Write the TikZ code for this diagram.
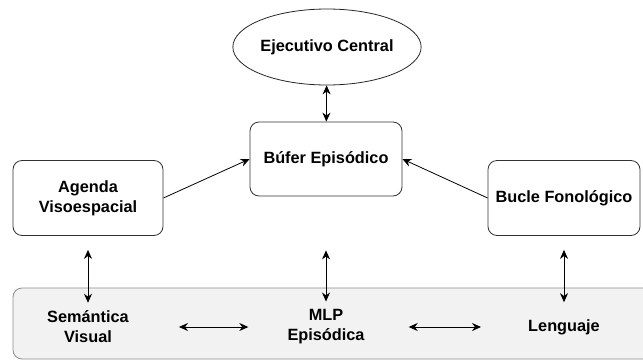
\documentclass[tikz,border=0pt]{standalone}
\usepackage{fontspec}
\setmainfont{Liberation Sans}
\usetikzlibrary{arrows.meta,positioning,shapes.geometric}

\tikzset{
  caja/.style={draw=black!80,rounded corners=9pt,thick,fill=white,align=center,
    minimum width=150pt,minimum height=75pt,inner sep=0pt},
  texto/.style={align=center,inner sep=0pt},
  flecha/.style={{Stealth[length=9pt,width=8pt]}-{Stealth[length=9pt,width=8pt]},thick},
  flechauna/.style={-{Stealth[length=9pt,width=8pt]},thick}
}

\begin{document}
\begin{tikzpicture}[x=1pt,y=-1pt,font=\fontsize{16.3}{20}\selectfont\bfseries]
%tamano de la figura
\useasboundingbox (0,0) rectangle (643,362);
\clip (0,0) rectangle (643,362);

%banda gris de abajo
\draw [black!45,fill=black!5,rounded corners=9pt,thick] (13,288) rectangle (680,359);

%nodos de arriba
\node [draw=black!85,thick,ellipse,minimum width=150pt,minimum height=76pt,inner sep=0pt] (ejecutivo) at (327,47) {Ejecutivo Central};
\node [caja,minimum width=152pt,minimum height=74pt] (bufer) at (326,159) {Búfer Episódico};
\node [caja] (agenda) at (88,198) {Agenda\\Visoespacial};
\node [caja,minimum width=152pt] (bucle) at (564,198) {Bucle Fonológico};

%nodos de la banda
\node [texto] (semantica) at (88,327) {Semántica\\Visual};
\node [texto] (mlp) at (326,327) {MLP\\Episódica};
\node [texto] (lenguaje) at (564,327) {Lenguaje};

%flechas
\draw [flecha] (ejecutivo) -- (bufer);
\draw [flechauna] (agenda.east) -- (bufer.west);
\draw [flechauna] (bucle.west) -- (bufer.west -| bufer.east);
\draw [flecha,shorten <=14pt,shorten >=8pt] (agenda) -- (semantica);
\draw [flecha,shorten <=54pt,shorten >=8pt] (bufer) -- (mlp);
\draw [flecha,shorten <=14pt,shorten >=17pt] (bucle) -- (lenguaje);
\draw [flecha,shorten <=50pt,shorten >=39pt] (semantica) -- (mlp);
\draw [flecha,shorten <=44pt,shorten >=47pt] (mlp) -- (lenguaje);
\end{tikzpicture}
\end{document}
